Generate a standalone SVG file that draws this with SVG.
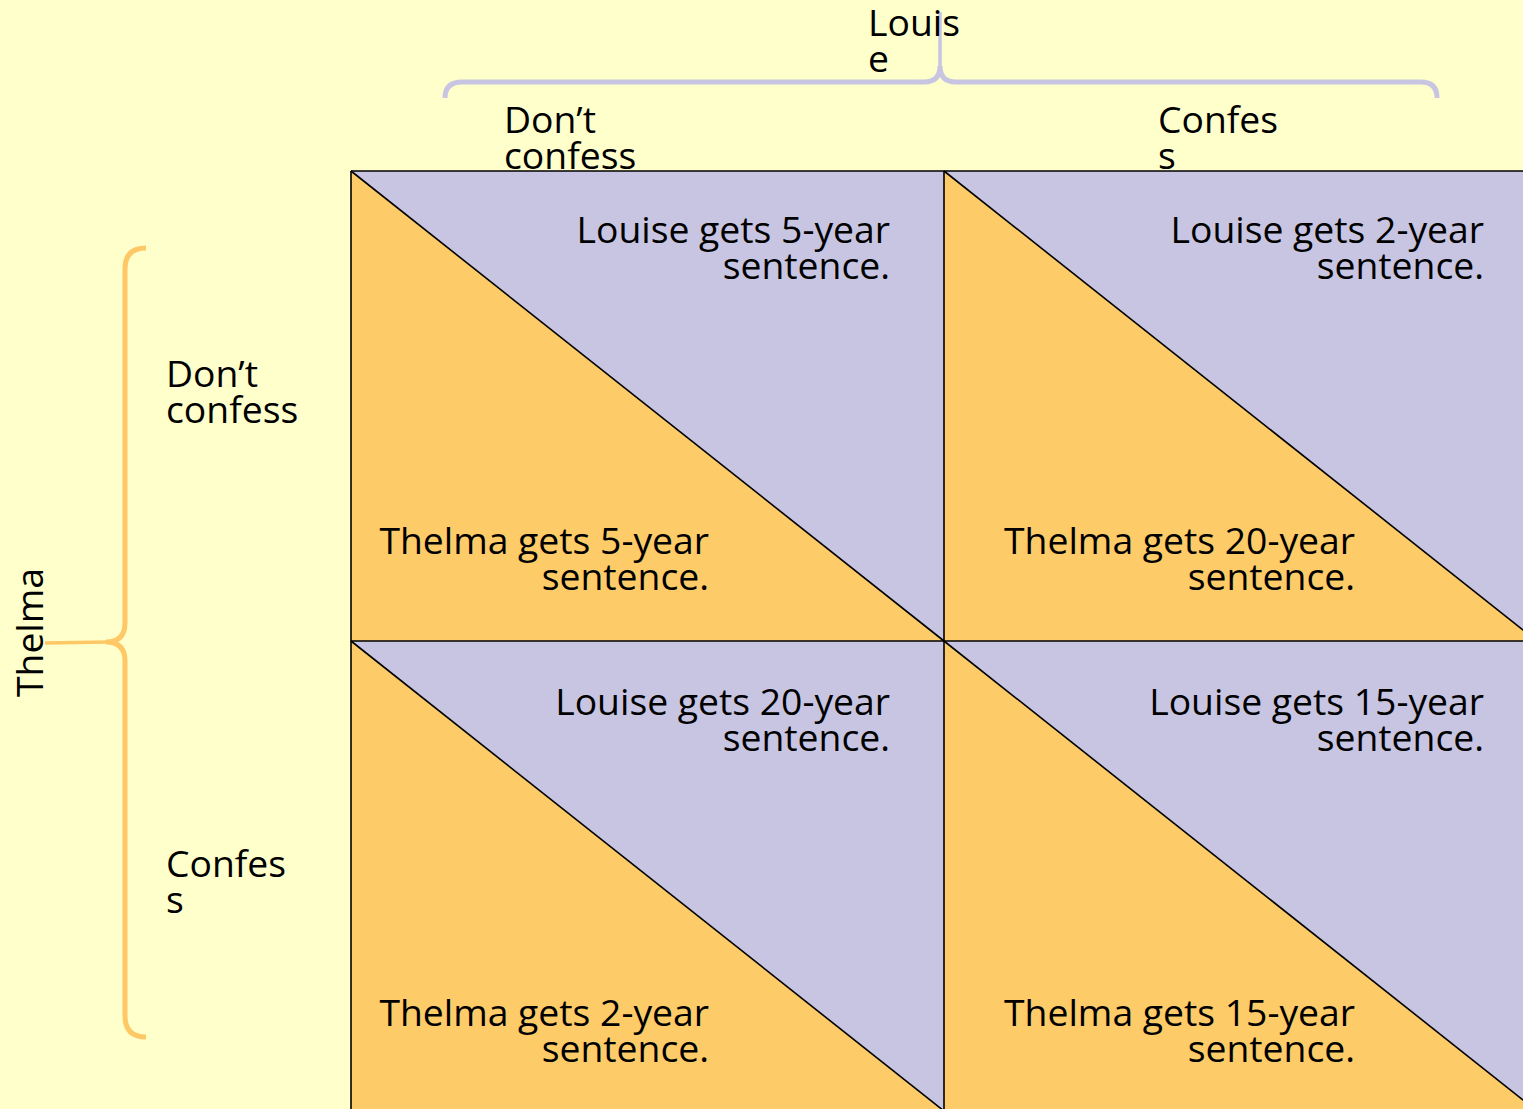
<svg xmlns="http://www.w3.org/2000/svg" width="1523" height="1109" viewBox="0 0 1523 1109">
  <style>
    text { font-family: "Open Sans", "Noto Sans", "DejaVu Sans", sans-serif; font-size: 37.3px; fill: #000; }
    .end { text-anchor: end; }
    .lav { fill: #c8c5e2; }
    .org { fill: #fdcb68; }
    .grid { stroke: #000; stroke-width: 1.6; fill: none; }
    .diag { stroke: #000; stroke-width: 1.6; fill: none; }
    .braceL { stroke: #c8c5e2; stroke-width: 5; fill: none; stroke-linecap: butt; }
    .braceT { stroke: #fdc865; stroke-width: 5; fill: none; stroke-linecap: butt; }
  </style>
  <rect x="0" y="0" width="1523" height="1109" fill="#ffffcc"/>

  <g id="cell-dc-dc">
    <polygon class="lav" points="351,171 944,171 944,641"/>
    <polygon class="org" points="351,171 351,641 944,641"/>
    <line class="diag" x1="351" y1="171" x2="944" y2="641"/>
    <text class="end" x="890" y="243">Louise gets 5-year<tspan x="890" y="279">sentence.</tspan></text>
    <text class="end" x="709" y="554">Thelma gets 5-year<tspan x="709" y="590">sentence.</tspan></text>
  </g>
  <g id="cell-dc-c">
    <polygon class="lav" points="944,171 1537,171 1537,641"/>
    <polygon class="org" points="944,171 944,641 1537,641"/>
    <line class="diag" x1="944" y1="171" x2="1537" y2="641"/>
    <text class="end" x="1484" y="243">Louise gets 2-year<tspan x="1484" y="279">sentence.</tspan></text>
    <text class="end" x="1355" y="554">Thelma gets 20-year<tspan x="1355" y="590">sentence.</tspan></text>
  </g>
  <g id="cell-c-dc">
    <polygon class="lav" points="351,641 944,641 944,1111"/>
    <polygon class="org" points="351,641 351,1111 944,1111"/>
    <line class="diag" x1="351" y1="641" x2="944" y2="1111"/>
    <text class="end" x="890" y="715">Louise gets 20-year<tspan x="890" y="751">sentence.</tspan></text>
    <text class="end" x="709" y="1026">Thelma gets 2-year<tspan x="709" y="1062">sentence.</tspan></text>
  </g>
  <g id="cell-c-c">
    <polygon class="lav" points="944,641 1537,641 1537,1111"/>
    <polygon class="org" points="944,641 944,1111 1537,1111"/>
    <line class="diag" x1="944" y1="641" x2="1537" y2="1111"/>
    <text class="end" x="1484" y="715">Louise gets 15-year<tspan x="1484" y="751">sentence.</tspan></text>
    <text class="end" x="1355" y="1026">Thelma gets 15-year<tspan x="1355" y="1062">sentence.</tspan></text>
  </g>

  <g id="connectors">
    <path class="grid" d="M351,171 H1523 M351,641 H1523 M351,171 V1109 M944,171 V1109"/>
    <path class="braceL" d="M445,98 Q445,82 462,82 L924,82 Q940,82 940,66 M940,66 Q940,82 956,82 L1421,82 Q1437,82 1437,98"/>
    <path d="M940,68 L940,12" stroke="#c8c5e2" stroke-width="3.5" fill="none"/>
    <path class="braceT" d="M146,248 Q125,248 125,269 L125,623 Q125,642 106,642 M106,642 Q125,642 125,661 L125,1016 Q125,1037 146,1037"/>
    <path d="M108,642 L45,643" stroke="#fdc865" stroke-width="3.5" fill="none"/>
  </g>

  <g id="header-louise">
    <text x="868" y="36">Louis<tspan x="868" y="72">e</tspan></text>
  </g>
  <g id="header-louise-dc">
    <text x="504" y="133">Don’t<tspan x="504" y="169">confess</tspan></text>
  </g>
  <g id="header-louise-c">
    <text x="1158" y="133">Confes<tspan x="1158" y="169">s</tspan></text>
  </g>
  <g id="header-thelma">
    <text transform="translate(43,697) rotate(-90)" x="0" y="0">Thelma</text>
  </g>
  <g id="header-thelma-dc">
    <text x="166" y="387">Don’t<tspan x="166" y="423">confess</tspan></text>
  </g>
  <g id="header-thelma-c">
    <text x="166" y="877">Confes<tspan x="166" y="913">s</tspan></text>
  </g>
</svg>
